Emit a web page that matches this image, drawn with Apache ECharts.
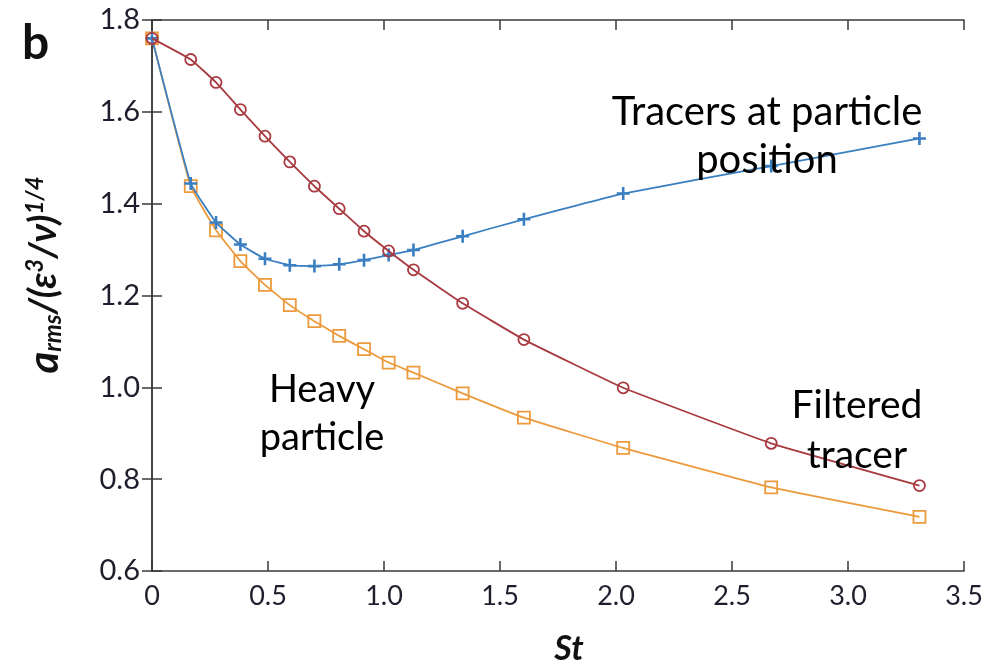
<!DOCTYPE html>
<html>
<head>
<meta charset="utf-8">
<script src="https://cdn.jsdelivr.net/npm/echarts@6/dist/echarts.min.js"></script>
<style>
html,body{margin:0;padding:0;background:#fff;}
#c{width:1003px;height:668px;}
</style>
</head>
<body>
<div id="c"></div>
<script>
var stValues = [0, 0.167, 0.276, 0.381, 0.487, 0.594, 0.700, 0.807, 0.914, 1.020, 1.127, 1.339, 1.603, 2.031, 2.669, 3.308];
var filteredTracer = [1.760, 1.714, 1.664, 1.605, 1.547, 1.491, 1.438, 1.389, 1.340, 1.297, 1.256, 1.183, 1.104, 0.999, 0.878, 0.786];
var tracersAtParticle = [1.760, 1.444, 1.359, 1.311, 1.280, 1.266, 1.264, 1.268, 1.277, 1.288, 1.299, 1.329, 1.366, 1.422, 1.482, 1.542];
var heavyParticle = [1.760, 1.438, 1.342, 1.275, 1.223, 1.179, 1.144, 1.112, 1.083, 1.054, 1.032, 0.987, 0.934, 0.868, 0.782, 0.718];
var xTicks = [0, 0.5, 1.0, 1.5, 2.0, 2.5, 3.0, 3.5];
var yTicks = [0.6, 0.8, 1.0, 1.2, 1.4, 1.6, 1.8];

function pairs(ys){ return stValues.map(function(x,i){ return [x, ys[i]]; }); }

var RED = '#a83a40', BLUE = '#3a7fc2', ORANGE = '#ec9a3c';
var AX = '#3a3a3a';
var FONT = 'Lato';

var chart = echarts.init(document.getElementById('c'), null, {renderer:'canvas'});

function xFmt(v){ return v === 0 ? '0' : v.toFixed(1); }

var baseAxisLine = {show:true, lineStyle:{color:AX, width:1.5}};
var tick = {show:true, inside:true, length:10, lineStyle:{color:AX, width:1.5}};
var option = {
  animation:false,
  backgroundColor:'#fff',
  grid:{left:152, right:39, top:20, bottom:97, containLabel:false},
  xAxis:[{
    type:'value', min:xTicks[0], max:xTicks[xTicks.length-1], interval:0.5, position:'bottom',
    axisLine:baseAxisLine, axisTick:tick, splitLine:{show:false},
    axisLabel:{formatter:xFmt, fontFamily:FONT, fontSize:27, color:'#1e1e2e', margin:12}
  },{
    type:'value', min:xTicks[0], max:xTicks[xTicks.length-1], interval:0.5, position:'top',
    axisLine:baseAxisLine, axisTick:tick, axisLabel:{show:false}, splitLine:{show:false}
  }],
  yAxis:[{
    type:'value', min:yTicks[0], max:yTicks[yTicks.length-1], interval:0.2, position:'left',
    axisLine:baseAxisLine, axisTick:tick, splitLine:{show:false},
    axisLabel:{formatter:function(v){return v.toFixed(1);}, fontFamily:FONT, fontSize:29, color:'#1e1e2e', margin:12}
  },{
    type:'value', min:yTicks[0], max:yTicks[yTicks.length-1], interval:0.2, position:'right',
    axisLine:baseAxisLine, axisTick:tick, axisLabel:{show:false}, splitLine:{show:false}
  }],
  series:[{
    name:'Filtered tracer', type:'line', data:pairs(filteredTracer), smooth:0.1,
    symbol:'circle', symbolSize:11, showAllSymbol:true,
    itemStyle:{color:'rgba(255,255,255,0)', borderColor:RED, borderWidth:1.8},
    lineStyle:{color:RED, width:1.8}, z:3
  },{
    name:'Tracers at particle position', type:'line', data:pairs(tracersAtParticle), smooth:0.1,
    symbol:'path://M4,0h2v4h4v2h-4v4h-2v-4h-4v-2h4z', symbolSize:13, showAllSymbol:true,
    itemStyle:{color:BLUE},
    lineStyle:{color:BLUE, width:1.8}, z:2
  },{
    name:'Heavy particle', type:'line', data:pairs(heavyParticle), smooth:0.1,
    symbol:'rect', symbolSize:12, showAllSymbol:true,
    itemStyle:{color:'rgba(255,255,255,0)', borderColor:ORANGE, borderWidth:1.8},
    lineStyle:{color:ORANGE, width:1.8}, z:1
  }],
  graphic:[
    {type:'text', left:22, top:20, style:{text:'b', font:'bold 48px '+FONT, fill:'#111'}},
    {type:'text', x:569, y:649, style:{text:'St', font:'italic bold 34px '+FONT, fill:'#111', textAlign:'center', textVerticalAlign:'middle'}},
    {type:'text', x:44, y:275, rotation:Math.PI/2,
      style:{
        text:'{a|a}{sub|rms}{n|/(ε}{sup|3}{n|/ν)}{sup|1/4}',
        textAlign:'center', textVerticalAlign:'middle',
        rich:{
          a:{font:'italic bold 42px '+FONT, fill:'#111', lineHeight:50, verticalAlign:'middle'},
          n:{font:'italic bold 38px '+FONT, fill:'#111', lineHeight:50, verticalAlign:'middle'},
          sub:{font:'italic bold 24px '+FONT, fill:'#111', lineHeight:50, verticalAlign:'bottom', padding:[0,0,4,0]},
          sup:{font:'italic bold 24px '+FONT, fill:'#111', lineHeight:50, verticalAlign:'top', padding:[4,0,0,0]}
        }
      }},
    {type:'text', x:767, y:136, z:10, style:{text:'Tracers at particle\nposition', font:'40px '+FONT, fill:'#000', textAlign:'center', textVerticalAlign:'middle', lineHeight:48}},
    {type:'text', x:322, y:414, z:10, style:{text:'Heavy\nparticle', font:'38px '+FONT, fill:'#000', textAlign:'center', textVerticalAlign:'middle', lineHeight:48}},
    {type:'text', x:857, y:430, z:10, style:{text:'Filtered\ntracer', font:'39px '+FONT, fill:'#000', textAlign:'center', textVerticalAlign:'middle', lineHeight:50}}
  ]
};
chart.setOption(option);
</script>
</body>
</html>
